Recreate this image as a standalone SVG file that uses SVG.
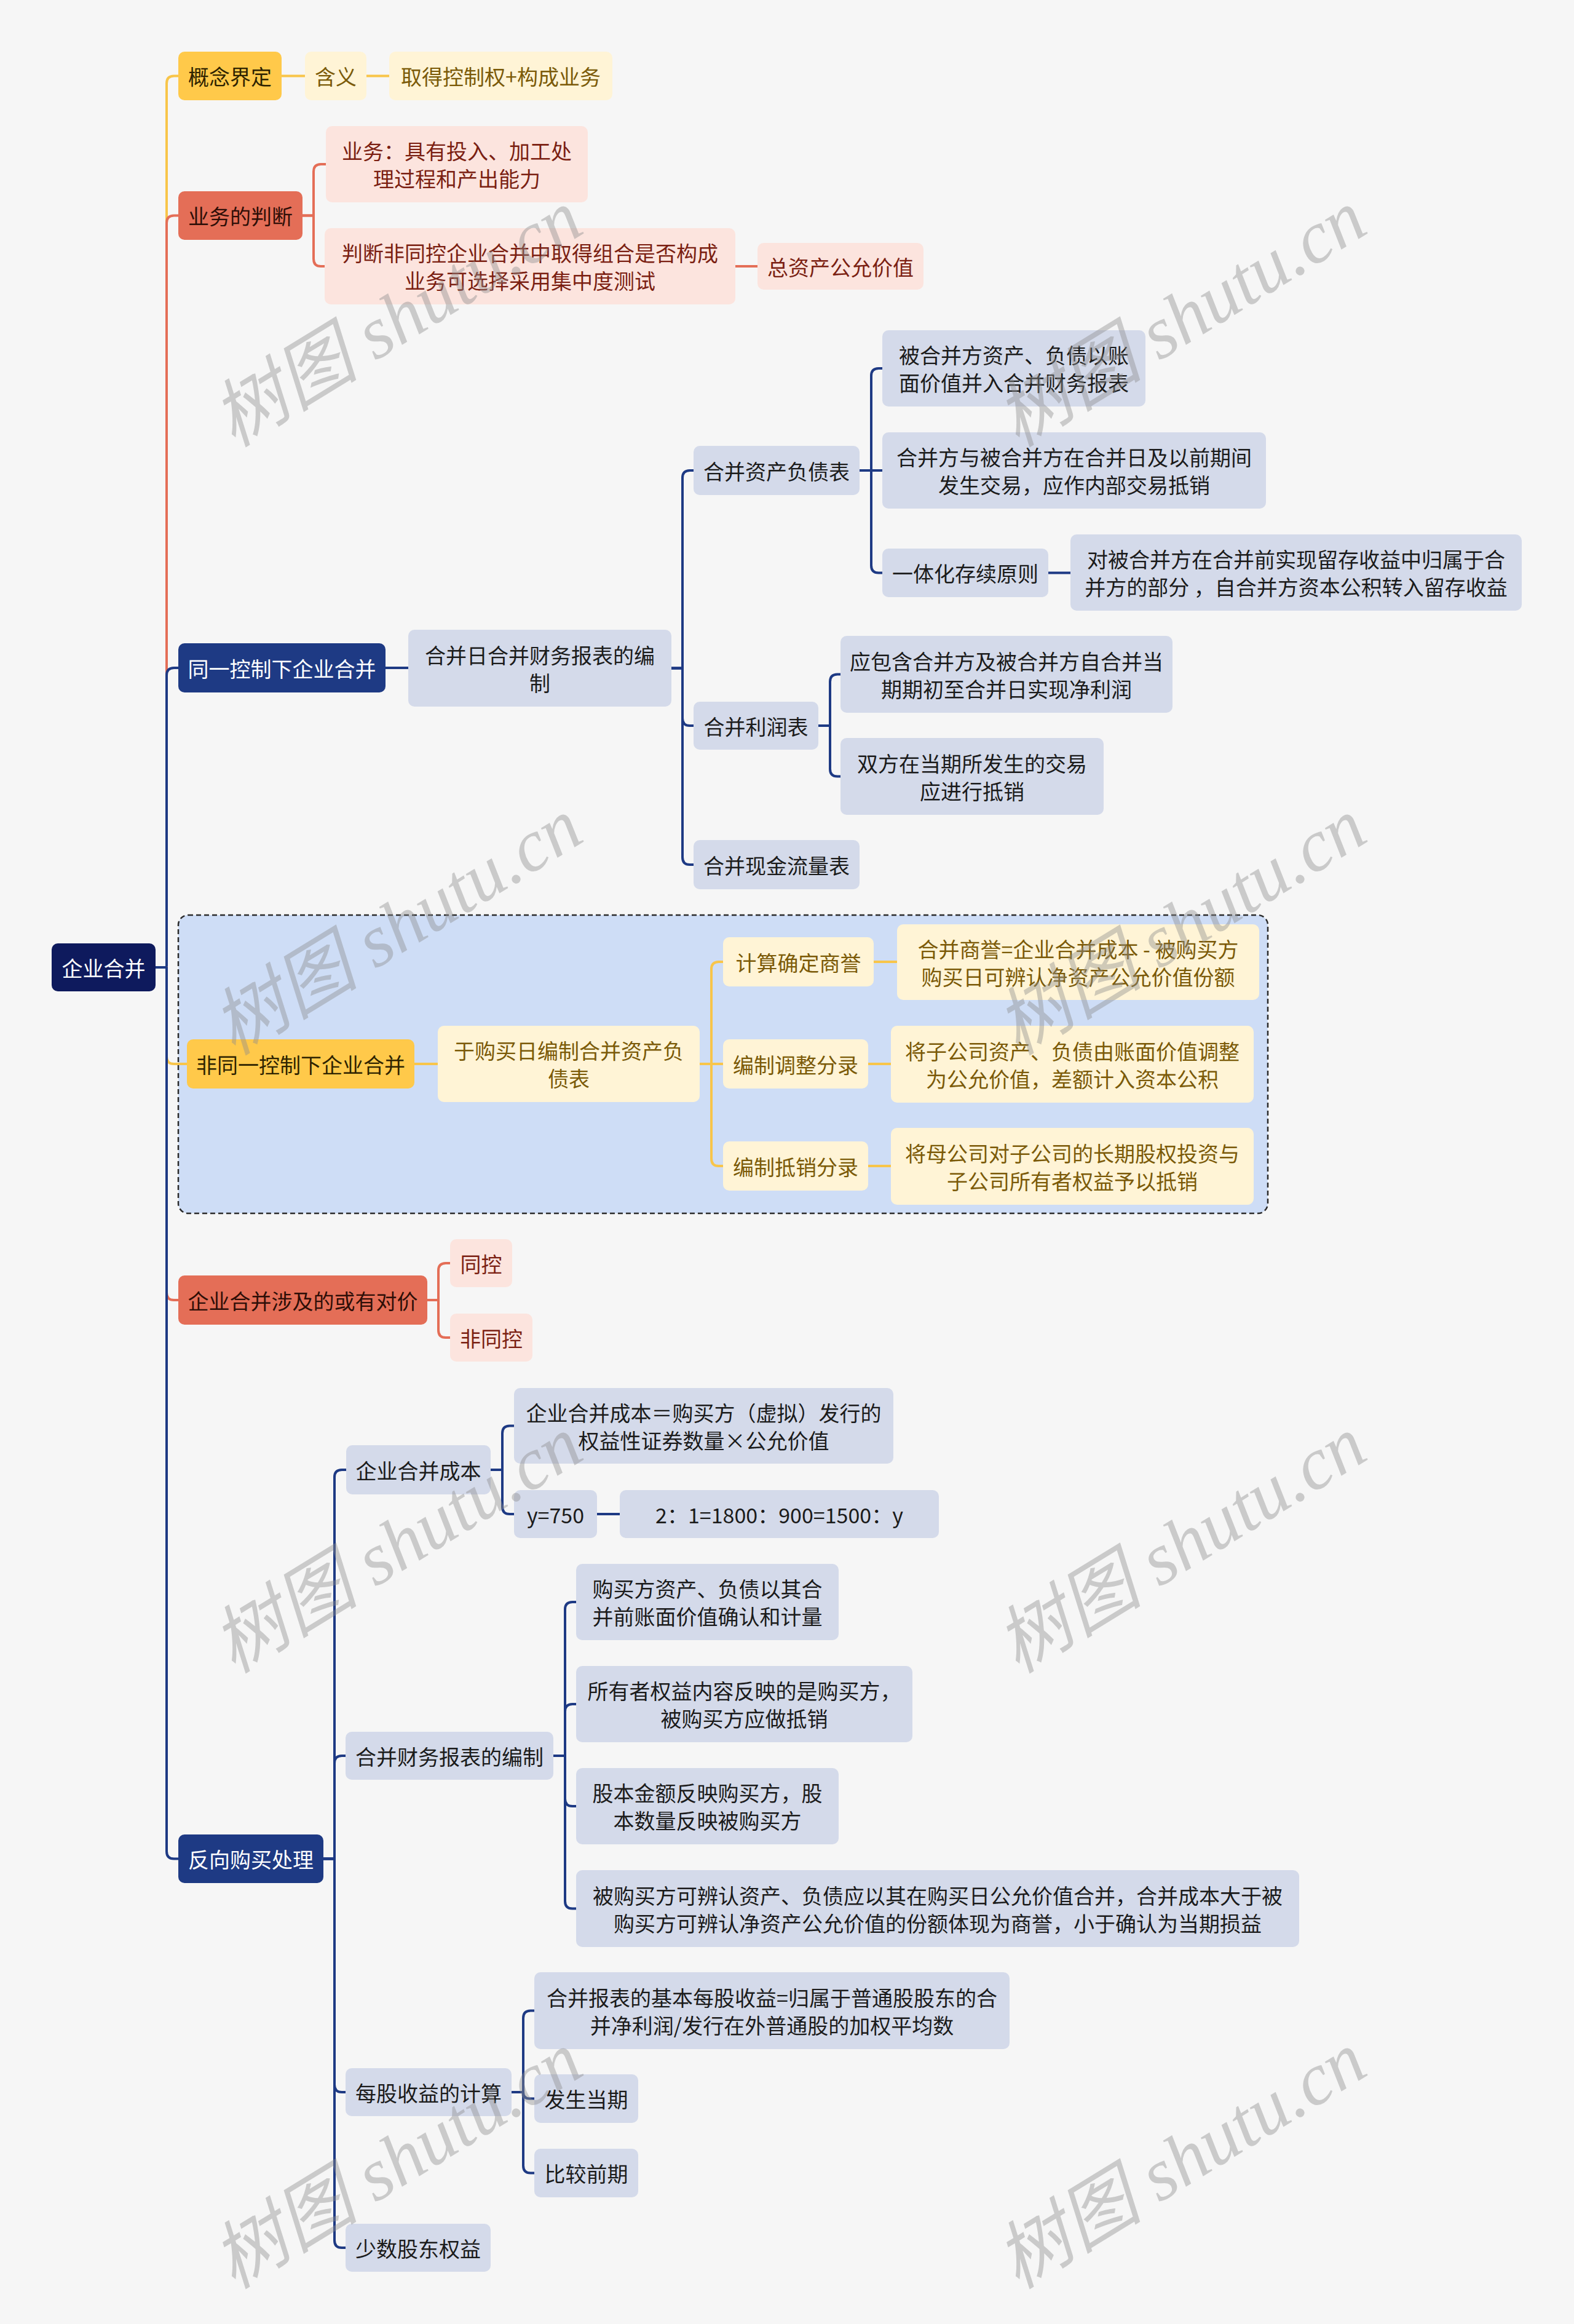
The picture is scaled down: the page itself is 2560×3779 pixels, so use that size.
<svg xmlns="http://www.w3.org/2000/svg" width="2560" height="3779" viewBox="0 0 2560 3779">
<style>
text{font-family:"Noto Sans CJK SC","Noto Sans",sans-serif;font-size:34px;dominant-baseline:central;text-anchor:middle}
.root rect{fill:#0E1A5D}.root text{fill:#fff}
.db rect{fill:#1E3A84}.db text{fill:#fff}
.yl rect{fill:#FFC94A}.yl text{fill:#2E2300}
.co rect{fill:#E46E57}.co text{fill:#2E0E07}
.ly rect{fill:#FFF4D6}.ly text{fill:#7B5A08}
.pk rect{fill:#FCE4DE}.pk text{fill:#7B1F12}
.bg rect{fill:#D4DAEA}.bg text{fill:#1B1B1B}
#connectors path{fill:none;stroke-width:4;stroke-linecap:round;stroke-linejoin:round}
.cb{stroke:#1E3A84}.cy{stroke:#F8C54A}.cc{stroke:#E46E57}
.wm text{font-family:"Liberation Serif","Noto Sans CJK SC",serif;font-style:italic;font-size:120px;fill:#8C8C8C;fill-opacity:0.42}
</style>
<rect x="0" y="0" width="2560" height="3779" fill="#F6F6F6"/>
<g id="group-nontong">
<rect x="290" y="1488" width="1772" height="485" rx="16" fill="#CEDDF6" stroke="#2B2B2B" stroke-width="2.5" stroke-dasharray="8 5"/>
</g>
<g id="connectors">
<path class="cy" d="M253,1573 H271 V135.5 Q271,123.5 283,123.5 H290"/>
<path class="cc" d="M253,1573 H271 V362.5 Q271,350.5 283,350.5 H290"/>
<path class="cb" d="M253,1573 H271 V1098 Q271,1086 283,1086 H290"/>
<path class="cy" d="M253,1573 H271 V1718 Q271,1730 283,1730 H304"/>
<path class="cc" d="M253,1573 H271 V2102 Q271,2114 283,2114 H290"/>
<path class="cb" d="M253,1573 H271 V3010.5 Q271,3022.5 283,3022.5 H290"/>
<path class="cy" d="M458,123.5 H496"/>
<path class="cy" d="M596,123.5 H633"/>
<path class="cc" d="M492,350.5 H510 V279 Q510,267 522,267 H530"/>
<path class="cc" d="M492,350.5 H510 V421 Q510,433 522,433 H528"/>
<path class="cc" d="M1196,433 H1232"/>
<path class="cb" d="M627,1086 H664"/>
<path class="cb" d="M1092,1086.5 H1110 V777 Q1110,765 1122,765 H1128"/>
<path class="cb" d="M1092,1086.5 H1110 V1168 Q1110,1180 1122,1180 H1128"/>
<path class="cb" d="M1092,1086.5 H1110 V1394 Q1110,1406 1122,1406 H1128"/>
<path class="cb" d="M1398,765 H1417 V611 Q1417,599 1429,599 H1435"/>
<path class="cb" d="M1398,765 H1435"/>
<path class="cb" d="M1398,765 H1417 V919.5 Q1417,931.5 1429,931.5 H1435"/>
<path class="cb" d="M1705,931.5 H1741"/>
<path class="cb" d="M1331,1180 H1350 V1108.5 Q1350,1096.5 1362,1096.5 H1367"/>
<path class="cb" d="M1331,1180 H1350 V1250.5 Q1350,1262.5 1362,1262.5 H1367"/>
<path class="cy" d="M674,1730 H712"/>
<path class="cy" d="M1138,1730 H1157 V1576 Q1157,1564 1169,1564 H1176"/>
<path class="cy" d="M1138,1730 H1176"/>
<path class="cy" d="M1138,1730 H1157 V1884 Q1157,1896 1169,1896 H1176"/>
<path class="cy" d="M1421,1564 H1459"/>
<path class="cy" d="M1412,1730 H1449"/>
<path class="cy" d="M1412,1896 H1449"/>
<path class="cc" d="M695,2114 H713 V2066 Q713,2054 725,2054 H732"/>
<path class="cc" d="M695,2114 H713 V2163 Q713,2175 725,2175 H732"/>
<path class="cb" d="M526,3022.5 H544 V2402 Q544,2390 556,2390 H563"/>
<path class="cb" d="M526,3022.5 H544 V2867 Q544,2855 556,2855 H562"/>
<path class="cb" d="M526,3022.5 H544 V3390 Q544,3402 556,3402 H562"/>
<path class="cb" d="M526,3022.5 H544 V3643 Q544,3655 556,3655 H562"/>
<path class="cb" d="M798,2390 H817 V2330.5 Q817,2318.5 829,2318.5 H836"/>
<path class="cb" d="M798,2390 H817 V2450 Q817,2462 829,2462 H836"/>
<path class="cb" d="M971,2462 H1008"/>
<path class="cb" d="M900,2855 H919 V2617 Q919,2605 931,2605 H937"/>
<path class="cb" d="M900,2855 H919 V2783 Q919,2771 931,2771 H937"/>
<path class="cb" d="M900,2855 H919 V2925 Q919,2937 931,2937 H937"/>
<path class="cb" d="M900,2855 H919 V3091.5 Q919,3103.5 931,3103.5 H937"/>
<path class="cb" d="M832,3402 H851 V3281.5 Q851,3269.5 863,3269.5 H869"/>
<path class="cb" d="M832,3402 H851 Q851,3412.5 861,3412.5 H869"/>
<path class="cb" d="M832,3402 H851 V3521.5 Q851,3533.5 863,3533.5 H869"/>
</g>
<g id="root" class="root"><rect x="84" y="1534" width="169" height="78" rx="10"/><text x="168.5" y="1573">企业合并</text></g>
<g id="n1" class="yl"><rect x="290" y="84" width="168" height="79" rx="10"/><text x="374" y="123.5">概念界定</text></g>
<g id="n1a" class="ly"><rect x="496" y="84" width="100" height="79" rx="10"/><text x="546" y="123.5">含义</text></g>
<g id="n1b" class="ly"><rect x="633" y="84" width="363" height="79" rx="10"/><text x="814.5" y="123.5">取得控制权+构成业务</text></g>
<g id="n2" class="co"><rect x="290" y="311" width="202" height="79" rx="10"/><text x="391" y="350.5">业务的判断</text></g>
<g id="n2a" class="pk"><rect x="530" y="205" width="426" height="124" rx="10"/><text x="743" y="244.5">业务：具有投入、加工处</text><text x="743" y="289.5">理过程和产出能力</text></g>
<g id="n2b" class="pk"><rect x="528" y="371" width="668" height="124" rx="10"/><text x="862" y="410.5">判断非同控企业合并中取得组合是否构成</text><text x="862" y="455.5">业务可选择采用集中度测试</text></g>
<g id="n2b1" class="pk"><rect x="1232" y="395" width="270" height="76" rx="10"/><text x="1367" y="433">总资产公允价值</text></g>
<g id="n3" class="db"><rect x="290" y="1046" width="337" height="80" rx="10"/><text x="458.5" y="1086">同一控制下企业合并</text></g>
<g id="n3a" class="bg"><rect x="664" y="1024" width="428" height="125" rx="10"/><text x="878" y="1064">合并日合并财务报表的编</text><text x="878" y="1109">制</text></g>
<g id="n3a1" class="bg"><rect x="1128" y="725" width="270" height="80" rx="10"/><text x="1263" y="765">合并资产负债表</text></g>
<g id="n3a1a" class="bg"><rect x="1435" y="537" width="428" height="124" rx="10"/><text x="1649" y="576.5">被合并方资产、负债以账</text><text x="1649" y="621.5">面价值并入合并财务报表</text></g>
<g id="n3a1b" class="bg"><rect x="1435" y="703" width="624" height="124" rx="10"/><text x="1747" y="742.5">合并方与被合并方在合并日及以前期间</text><text x="1747" y="787.5">发生交易，应作内部交易抵销</text></g>
<g id="n3a1c" class="bg"><rect x="1435" y="892" width="270" height="79" rx="10"/><text x="1570" y="931.5">一体化存续原则</text></g>
<g id="n3a1c1" class="bg"><rect x="1741" y="869" width="734" height="124" rx="10"/><text x="2108" y="908.5">对被合并方在合并前实现留存收益中归属于合</text><text x="2108" y="953.5">并方的部分 ，自合并方资本公积转入留存收益</text></g>
<g id="n3a2" class="bg"><rect x="1128" y="1141" width="203" height="78" rx="10"/><text x="1229.5" y="1180">合并利润表</text></g>
<g id="n3a2a" class="bg"><rect x="1367" y="1034" width="540" height="125" rx="10"/><text x="1637" y="1074">应包含合并方及被合并方自合并当</text><text x="1637" y="1119">期期初至合并日实现净利润</text></g>
<g id="n3a2b" class="bg"><rect x="1367" y="1200" width="428" height="125" rx="10"/><text x="1581" y="1240">双方在当期所发生的交易</text><text x="1581" y="1285">应进行抵销</text></g>
<g id="n3a3" class="bg"><rect x="1128" y="1366" width="270" height="80" rx="10"/><text x="1263" y="1406">合并现金流量表</text></g>
<g id="n4" class="yl"><rect x="304" y="1690" width="370" height="80" rx="10"/><text x="489" y="1730">非同一控制下企业合并</text></g>
<g id="n4a" class="ly"><rect x="712" y="1668" width="426" height="124" rx="10"/><text x="925" y="1707.5">于购买日编制合并资产负</text><text x="925" y="1752.5">债表</text></g>
<g id="n4a1" class="ly"><rect x="1176" y="1524" width="245" height="80" rx="10"/><text x="1298.5" y="1564">计算确定商誉</text></g>
<g id="n4a1a" class="ly"><rect x="1459" y="1503" width="589" height="123" rx="10"/><text x="1753.5" y="1542">合并商誉=企业合并成本 - 被购买方</text><text x="1753.5" y="1587">购买日可辨认净资产公允价值份额</text></g>
<g id="n4a2" class="ly"><rect x="1176" y="1690" width="236" height="80" rx="10"/><text x="1294" y="1730">编制调整分录</text></g>
<g id="n4a2a" class="ly"><rect x="1449" y="1668" width="590" height="125" rx="10"/><text x="1744" y="1708">将子公司资产、负债由账面价值调整</text><text x="1744" y="1753">为公允价值，差额计入资本公积</text></g>
<g id="n4a3" class="ly"><rect x="1176" y="1856" width="236" height="80" rx="10"/><text x="1294" y="1896">编制抵销分录</text></g>
<g id="n4a3a" class="ly"><rect x="1449" y="1834" width="590" height="125" rx="10"/><text x="1744" y="1874">将母公司对子公司的长期股权投资与</text><text x="1744" y="1919">子公司所有者权益予以抵销</text></g>
<g id="n5" class="co"><rect x="290" y="2074" width="405" height="80" rx="10"/><text x="492.5" y="2114">企业合并涉及的或有对价</text></g>
<g id="n5a" class="pk"><rect x="732" y="2015" width="101" height="78" rx="10"/><text x="782.5" y="2054">同控</text></g>
<g id="n5b" class="pk"><rect x="732" y="2136" width="134" height="78" rx="10"/><text x="799" y="2175">非同控</text></g>
<g id="n6" class="db"><rect x="290" y="2983" width="236" height="79" rx="10"/><text x="408" y="3022.5">反向购买处理</text></g>
<g id="n6a" class="bg"><rect x="563" y="2350" width="235" height="80" rx="10"/><text x="680.5" y="2390">企业合并成本</text></g>
<g id="n6a1" class="bg"><rect x="836" y="2257" width="617" height="123" rx="10"/><text x="1144.5" y="2296">企业合并成本＝购买方（虚拟）发行的</text><text x="1144.5" y="2341">权益性证券数量×公允价值</text></g>
<g id="n6a2" class="bg"><rect x="836" y="2423" width="135" height="78" rx="10"/><text x="903.5" y="2462">y=750</text></g>
<g id="n6a2a" class="bg"><rect x="1008" y="2423" width="519" height="78" rx="10"/><text x="1267.5" y="2462">2：1=1800：900=1500：y</text></g>
<g id="n6b" class="bg"><rect x="562" y="2816" width="338" height="78" rx="10"/><text x="731" y="2855">合并财务报表的编制</text></g>
<g id="n6b1" class="bg"><rect x="937" y="2543" width="427" height="124" rx="10"/><text x="1150.5" y="2582.5">购买方资产、负债以其合</text><text x="1150.5" y="2627.5">并前账面价值确认和计量</text></g>
<g id="n6b2" class="bg"><rect x="937" y="2709" width="547" height="124" rx="10"/><text x="1210.5" y="2748.5">所有者权益内容反映的是购买方，</text><text x="1210.5" y="2793.5">被购买方应做抵销</text></g>
<g id="n6b3" class="bg"><rect x="937" y="2875" width="427" height="124" rx="10"/><text x="1150.5" y="2914.5">股本金额反映购买方，股</text><text x="1150.5" y="2959.5">本数量反映被购买方</text></g>
<g id="n6b4" class="bg"><rect x="937" y="3041" width="1176" height="125" rx="10"/><text x="1525" y="3081">被购买方可辨认资产、负债应以其在购买日公允价值合并，合并成本大于被</text><text x="1525" y="3126">购买方可辨认净资产公允价值的份额体现为商誉，小于确认为当期损益</text></g>
<g id="n6c" class="bg"><rect x="562" y="3363" width="270" height="78" rx="10"/><text x="697" y="3402">每股收益的计算</text></g>
<g id="n6c1" class="bg"><rect x="869" y="3207" width="773" height="125" rx="10"/><text x="1255.5" y="3247">合并报表的基本每股收益=归属于普通股股东的合</text><text x="1255.5" y="3292">并净利润/发行在外普通股的加权平均数</text></g>
<g id="n6c2" class="bg"><rect x="869" y="3373" width="169" height="79" rx="10"/><text x="953.5" y="3412.5">发生当期</text></g>
<g id="n6c3" class="bg"><rect x="869" y="3494" width="169" height="79" rx="10"/><text x="953.5" y="3533.5">比较前期</text></g>
<g id="n6d" class="bg"><rect x="562" y="3616" width="236" height="78" rx="10"/><text x="680" y="3655">少数股东权益</text></g>
<g class="wm">
<text transform="translate(646,518) rotate(-31.5)">树图 shutu.cn</text>
<text transform="translate(1921,518) rotate(-31.5)">树图 shutu.cn</text>
<text transform="translate(646,1507) rotate(-31.5)">树图 shutu.cn</text>
<text transform="translate(1921,1507) rotate(-31.5)">树图 shutu.cn</text>
<text transform="translate(646,2512) rotate(-31.5)">树图 shutu.cn</text>
<text transform="translate(1921,2512) rotate(-31.5)">树图 shutu.cn</text>
<text transform="translate(646,3513) rotate(-31.5)">树图 shutu.cn</text>
<text transform="translate(1921,3513) rotate(-31.5)">树图 shutu.cn</text>
</g>
</svg>
